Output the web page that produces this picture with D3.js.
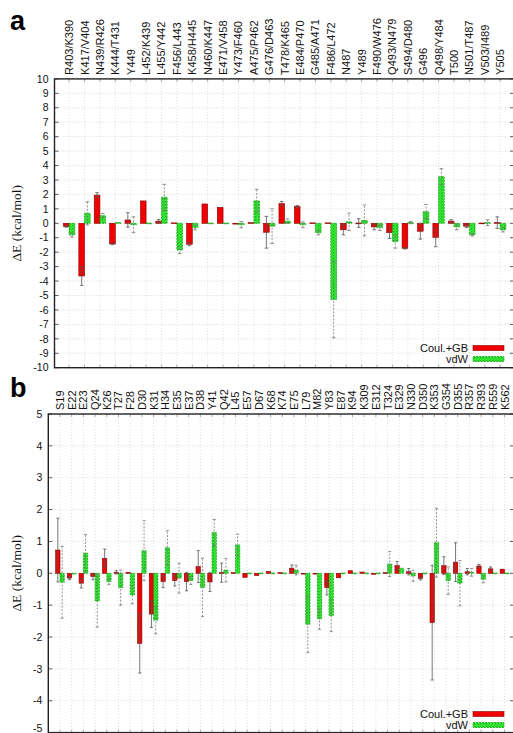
<!DOCTYPE html>
<html><head><meta charset="utf-8">
<script src="https://cdn.jsdelivr.net/npm/d3@7"></script>
<style>body{margin:0;background:#fff}svg{display:block}</style>
</head><body>
<script>
// ---- Panel a data ----
const catsA = ["R403/K390","K417/V404","N439/R426","K444/T431","Y449","L452/K439","L455/Y442","F456/L443","K458/H445","N460/K447","E471/V458","Y473/F460","A475/P462","G476/D463","T478/K465","E484/P470","G485/A471","F486/L472","N487","Y489","F490/W476","Q493/N479","S494/D480","G496","Q498/Y484","T500","N501/T487","V503/I489","Y505"];
const coulA = [-0.22,-3.65,1.95,-1.43,0.23,1.55,0.15,0.03,-1.45,1.34,1.1,-0.03,0.05,-0.62,1.36,1.15,0.03,0.03,-0.45,0.02,-0.25,-0.65,-1.73,-0.55,-0.97,0.15,-0.2,0.02,0.05];
const coulErrA = [0.05,0.65,0.17,0.05,0.5,0.03,0.12,0.02,0.1,0.03,0.03,0.03,0.03,1.1,0.15,0.08,0.02,0.02,0.35,0.3,0.2,0.4,0.05,0.55,0.65,0.1,0.1,0.03,0.4];
const vdwA = [-0.8,0.69,0.53,0.05,-0.1,0.02,1.8,-1.85,-0.3,0.02,0.02,-0.1,1.55,-0.2,0.15,-0.1,-0.65,-5.28,0.1,0.2,-0.3,-1.27,0.05,0.8,3.23,-0.25,-0.8,0.05,-0.45];
const vdwErrA = [0.15,0.8,0.15,0.03,0.55,0.02,0.9,0.25,0.15,0.02,0.02,0.22,0.8,1.2,0.15,0.2,0.15,2.65,0.6,1.07,0.2,0.45,0.08,0.5,0.55,0.2,0.08,0.2,0.15];
const yTicksA = d3.range(-10, 11, 1);

// ---- Panel b data ----
const catsB = ["S19","E22","E23","Q24","K26","T27","F28","D30","K31","H34","E35","E37","D38","Y41","Q42","L45","E57","D67","K68","K74","E75","L79","M82","Y83","E87","K94","K309","E312","T324","E329","N330","D350","K353","G354","D355","R357","R393","R559","K562"];
const coulB = [0.73,-0.15,-0.31,-0.1,0.47,0.03,0.03,-2.2,-1.28,-0.26,-0.23,-0.26,0.21,-0.27,0.02,0.02,-0.13,-0.07,0.06,0.02,0.16,-0.02,-0.02,-0.45,-0.14,0.08,0.04,-0.03,0.02,0.24,0.05,-0.16,-1.55,0.24,0.35,0.05,0.23,0.14,0.13];
const coulErrB = [1.0,0.05,0.15,0.1,0.29,0.05,0.03,0.93,0.42,0.19,0.17,0.29,0.5,0.3,0.3,0.02,0.03,0.02,0.03,0.02,0.1,0.02,0.02,0.23,0.03,0.03,0.02,0.02,0.02,0.13,0.1,0.05,1.8,0.28,0.61,0.1,0.05,0.06,0.03];
const vdwB = [-0.28,-0.02,0.63,-0.87,-0.26,-0.45,-0.68,0.71,-1.47,0.8,-0.15,-0.23,-0.44,1.28,0.1,0.89,0.01,0.01,0.01,0.01,0.1,-1.6,-1.43,-1.33,0.01,0.01,0.01,0.01,0.29,0.16,-0.08,0.01,0.96,-0.23,-0.31,0.03,-0.19,0.01,0.01];
const vdwErrB = [1.13,0.02,0.59,0.82,0.09,0.55,0.28,0.94,0.43,0.54,0.47,0.12,0.92,0.41,0.37,0.34,0,0,0,0,0.15,0.89,0.33,0.5,0,0,0,0,0.39,0.04,0.17,0,1.08,0.43,0.71,0.12,0.11,0,0];
const yTicksB = d3.range(-5, 6, 1);

const legendLabels = ["Coul.+GB", "vdW"];
const yLabel = "ΔE (kcal/mol)";

const W = 513, H = 733;
const svg = d3.select("body").append("svg").attr("width", W).attr("height", H)
  .style("font-family", "'Liberation Sans', Arial, sans-serif");

const defs = svg.append("defs");
const pat = defs.append("pattern").attr("id", "gpat").attr("width", 3).attr("height", 3)
  .attr("patternUnits", "userSpaceOnUse");
pat.append("rect").attr("width", 3).attr("height", 3).attr("fill", "#3cf03c");
pat.append("rect").attr("x", 0).attr("y", 0).attr("width", 1.5).attr("height", 1.5).attr("fill", "#14b814");
pat.append("rect").attr("x", 1.5).attr("y", 1.5).attr("width", 1.5).attr("height", 1.5).attr("fill", "#28d828");

function panel(o) {
  const g = svg.append("g");
  const n = o.cats.length;
  const x = d3.scaleLinear().domain(o.xDomain).range([o.left, o.right]);
  const y = d3.scaleLinear().domain([o.yTicks[0], o.yTicks[o.yTicks.length - 1]]).range([o.bottom, o.top]);
  const idx = d3.range(n);
  const bw = x(0.37) - x(0);

  // grid
  g.append("g").selectAll("line").data(o.yTicks.slice(1, -1)).join("line")
    .attr("x1", o.left).attr("x2", o.right).attr("y1", d => y(d)).attr("y2", d => y(d))
    .attr("stroke", "#c8c8c8").attr("stroke-width", 0.7).attr("stroke-dasharray", "1,2");
  g.append("g").selectAll("line").data(idx).join("line")
    .attr("x1", d => x(d)).attr("x2", d => x(d)).attr("y1", o.top).attr("y2", o.bottom)
    .attr("stroke", "#d0d0d0").attr("stroke-width", 0.7).attr("stroke-dasharray", "1,2");

  // ticks left/right
  const tk = g.append("g").attr("stroke", "#333").attr("stroke-width", 0.8);
  tk.selectAll(".tl").data(o.yTicks).join("line").attr("class", "tl")
    .attr("x1", o.left).attr("x2", o.left + 4).attr("y1", d => y(d)).attr("y2", d => y(d));
  tk.selectAll(".tr").data(o.yTicks).join("line").attr("class", "tr")
    .attr("x1", o.right).attr("x2", o.right - 4).attr("y1", d => y(d)).attr("y2", d => y(d));
  tk.selectAll(".tt").data(idx).join("line").attr("class", "tt")
    .attr("x1", d => x(d)).attr("x2", d => x(d)).attr("y1", o.top).attr("y2", o.top + 3).attr("stroke", "#999");
  tk.selectAll(".tb").data(idx).join("line").attr("class", "tb")
    .attr("x1", d => x(d)).attr("x2", d => x(d)).attr("y1", o.bottom).attr("y2", o.bottom - 3).attr("stroke", "#999");

  // y tick labels
  g.append("g").selectAll("text").data(o.yTicks).join("text")
    .attr("x", o.left - 6).attr("y", d => Math.min(y(d) + 3.7, H - 1))
    .attr("text-anchor", "end").attr("font-size", 10.5).attr("fill", "#111").text(d => d);

  // category labels (top)
  g.append("g").selectAll("text").data(idx).join("text")
    .attr("transform", d => `translate(${x(d) + 4},${o.top - 4}) rotate(-90)`)
    .attr("text-anchor", "start").attr("font-size", 11).attr("fill", "#111")
    .text(d => o.cats[d]);

  // bars
  g.append("g").selectAll("rect").data(idx).join("rect")
    .attr("x", d => x(d) - bw).attr("width", bw)
    .attr("y", d => y(Math.max(0, o.coul[d]))).attr("height", d => Math.max(0.8, Math.abs(y(o.coul[d]) - y(0))))
    .attr("fill", "#f00000").attr("stroke", "#8a0000").attr("stroke-width", 0.6);
  g.append("g").selectAll("rect").data(idx).join("rect")
    .attr("x", d => x(d)).attr("width", bw)
    .attr("y", d => y(Math.max(0, o.vdw[d]))).attr("height", d => Math.max(0.8, Math.abs(y(o.vdw[d]) - y(0))))
    .attr("fill", "url(#gpat)").attr("stroke", "#0a9a0a").attr("stroke-width", 0.7).attr("stroke-dasharray", "2,1");

  // error bars
  function errs(vals, es, off, color, dash) {
    const eg = g.append("g").attr("stroke", color).attr("stroke-width", 0.8).attr("fill", "none");
    const ii = idx.filter(i => es[i] > 0.04);
    eg.selectAll(".v").data(ii).join("line").attr("class", "v")
      .attr("x1", i => x(i) + off).attr("x2", i => x(i) + off)
      .attr("y1", i => y(vals[i] - es[i])).attr("y2", i => y(vals[i] + es[i]))
      .attr("stroke-dasharray", dash);
    [-1, 1].forEach(s => {
      eg.selectAll(".c" + (s > 0 ? "p" : "m")).data(ii).join("line").attr("class", "c" + (s > 0 ? "p" : "m"))
        .attr("x1", i => x(i) + off - o.cap).attr("x2", i => x(i) + off + o.cap)
        .attr("y1", i => y(vals[i] + s * es[i])).attr("y2", i => y(vals[i] + s * es[i]));
    });
  }
  errs(o.coul, o.coulErr, -bw / 2, "#555", null);
  errs(o.vdw, o.vdwErr, bw / 2, "#777", "2,1.5");

  // frame
  g.append("rect").attr("x", o.left).attr("y", o.top).attr("width", o.right - o.left).attr("height", o.bottom - o.top)
    .attr("fill", "none").attr("stroke", "#222").attr("stroke-width", 1.4);

  // y label
  g.append("text").attr("transform", `translate(21,${(o.top + o.bottom) / 2}) rotate(-90)`)
    .attr("text-anchor", "middle").attr("font-family", "'Liberation Serif', 'Times New Roman', serif")
    .attr("font-size", 13.5).attr("fill", "#111").text(yLabel);

  // panel letter
  g.append("text").attr("x", 10).attr("y", o.letterY).attr("font-size", 27).attr("font-weight", "bold")
    .attr("fill", "#000").text(o.letter);

  // legend
  const lg = g.append("g");
  lg.selectAll("text").data(legendLabels).join("text")
    .attr("x", 468).attr("y", (d, i) => o.legY + i * 11).attr("dy", "0.35em")
    .attr("text-anchor", "end").attr("font-size", 11).attr("fill", "#111").text(d => d);
  lg.append("rect").attr("x", 473).attr("y", o.legY - 2.5).attr("width", 31).attr("height", 5)
    .attr("fill", "#f00000").attr("stroke", "#8a0000").attr("stroke-width", 0.6);
  lg.append("rect").attr("x", 473).attr("y", o.legY + 11 - 2.5).attr("width", 31).attr("height", 5)
    .attr("fill", "url(#gpat)").attr("stroke", "#0a9a0a").attr("stroke-width", 0.7).attr("stroke-dasharray", "2,1");
}

panel({cats: catsA, coul: coulA, coulErr: coulErrA, vdw: vdwA, vdwErr: vdwErrA, yTicks: yTicksA,
  xDomain: [-0.95, 28.9], left: 54.5, right: 514, top: 78.9, bottom: 367.7, cap: 1.8,
  letter: "a", letterY: 30, legY: 348});
panel({cats: catsB, coul: coulB, coulErr: coulErrB, vdw: vdwB, vdwErr: vdwErrB, yTicks: yTicksB,
  xDomain: [-1, 38.81], left: 48.3, right: 514, top: 414, bottom: 732.6, cap: 1.5,
  letter: "b", letterY: 397, legY: 714});
</script>
</body></html>
